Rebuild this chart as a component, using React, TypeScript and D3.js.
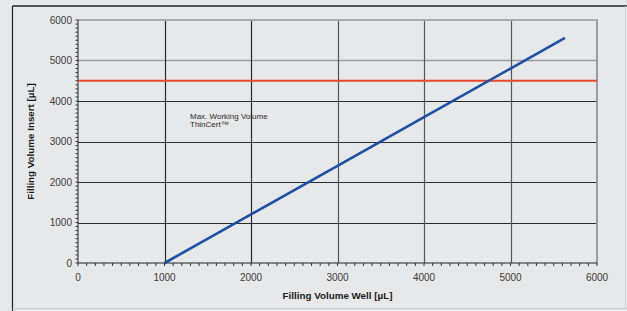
import React from "react";
import * as d3 from "d3";

const wellVolume = [1000, 2000, 3000, 4000, 5000, 5630];
const insertVolume = [0, 1200, 2400, 3600, 4800, 5556];
const maxWorkingVolume = 4500;
const xTicks = [0, 1000, 2000, 3000, 4000, 5000, 6000];
const yTicks = [0, 1000, 2000, 3000, 4000, 5000, 6000];
const minorTicks = d3.range(0, 6001, 100);
const xTitle = "Filling Volume Well [µL]";
const yTitle = "Filling Volume Insert [µL]";
const noteLines = ["Max. Working Volume", "ThinCert™"];

const W = 627, H = 311;
const L = 78, R = 597, T = 20, B = 263;

export default function App() {
  const x = d3.scaleLinear().domain([0, 6000]).range([L, R]);
  const y = d3.scaleLinear().domain([0, 6000]).range([B, T]);
  const pts = wellVolume.map((v, i) => [v, insertVolume[i]] as [number, number]);
  const line = d3.line<[number, number]>().x(d => x(d[0])).y(d => y(d[1]));
  const font = "'Liberation Sans', Arial, sans-serif";
  return (
    <svg width={W} height={H} style={{ position: "absolute", left: 0, top: 0, display: "block" }} fontFamily={font}>
      <rect x={0} y={0} width={W} height={H} fill="#e7e8ea" />
      {/* outer frame */}
      <line x1={12.5} x2={W} y1={6} y2={6} stroke="#222" strokeWidth={1.5} />
      <line x1={12.5} x2={12.5} y1={6} y2={H} stroke="#222" strokeWidth={1.2} />
      <line x1={12.5} x2={W} y1={308.5} y2={308.5} stroke="#c9cacc" strokeWidth={1} />
      <line x1={625.5} x2={625.5} y1={6} y2={309} stroke="#d2d3d5" strokeWidth={1} />
      {/* grid */}
      {yTicks.filter(t => t > 0 && t < 6000).map(t => (
        <line key={"gy" + t} x1={L} x2={R} y1={Math.round(y(t)) + 0.5} y2={Math.round(y(t)) + 0.5}
          stroke={t >= 5000 ? "#9a9b9d" : "#2a2a2a"} strokeWidth={t >= 5000 ? 1.5 : 1.1} />
      ))}
      {xTicks.filter(t => t > 0 && t < 6000).map(t => (
        <line key={"gx" + t} x1={Math.round(x(t)) + 0.5} x2={Math.round(x(t)) + 0.5} y1={T} y2={B}
          stroke={t <= 2000 ? "#2a2a2a" : "#555"} strokeWidth={1.2} />
      ))}
      <line x1={L} x2={R + 1} y1={T} y2={T} stroke="#a8a9ab" strokeWidth={2} />
      <line x1={R} x2={R} y1={T} y2={B} stroke="#9a9b9d" strokeWidth={2} />
      {/* axes */}
      <line x1={L} x2={L} y1={T} y2={B} stroke="#222" strokeWidth={1} />
      <line x1={L} x2={R} y1={B} y2={B} stroke="#222" strokeWidth={1.2} />
      {minorTicks.map(t => (
        <line key={"my" + t} x1={L - 2.5} x2={L} y1={y(t)} y2={y(t)} stroke="#333" strokeWidth={1} />
      ))}
      {minorTicks.map(t => (
        <line key={"mx" + t} x1={x(t)} x2={x(t)} y1={B} y2={B + 3} stroke="#333" strokeWidth={1} />
      ))}
      {/* tick labels */}
      {yTicks.map(t => (
        <text key={"ly" + t} x={L - 6} y={y(t)} dy="0.35em" textAnchor="end" fontSize={10} fill="#3a3a3a">{t}</text>
      ))}
      {xTicks.map(t => (
        <text key={"lx" + t} x={x(t)} y={B + 14} dy="0.35em" textAnchor="middle" fontSize={10} fill="#3a3a3a">{t}</text>
      ))}
      {/* titles */}
      <text x={(L + R) / 2} y={296} dy="0.35em" textAnchor="middle" fontSize={9.8} fontWeight="bold" fill="#1a1a1a">{xTitle}</text>
      <text transform={`translate(31,${(T + B) / 2}) rotate(-90)`} dy="0.35em" textAnchor="middle" fontSize={9.8} fontWeight="bold" fill="#1a1a1a">{yTitle}</text>
      {/* max working volume */}
      <line x1={L} x2={R} y1={y(maxWorkingVolume)} y2={y(maxWorkingVolume)} stroke="#e8472e" strokeWidth={2} />
      <text x={190} y={118.5} fontSize={8} fill="#2a2a2a">
        <tspan x={190}>{noteLines[0]}</tspan>
        <tspan x={190} dy={8.5}>{noteLines[1]}</tspan>
      </text>
      {/* series */}
      <path d={line(pts) || ""} fill="none" stroke="#1d4fa3" strokeWidth={2.6} />
    </svg>
  );
}
